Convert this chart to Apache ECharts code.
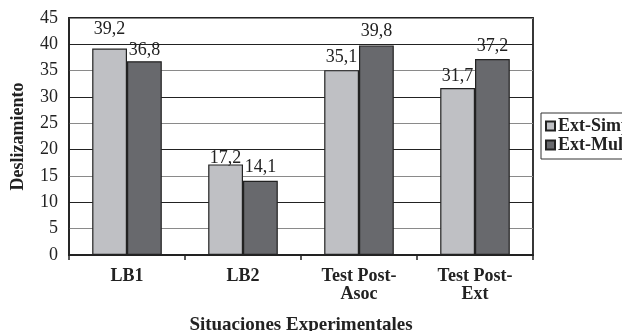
<!DOCTYPE html>
<html><head><meta charset="utf-8">
<script src="https://cdn.jsdelivr.net/npm/echarts@6/dist/echarts.min.js"></script>
<style>html,body{margin:0;padding:0;background:#fff}#c{width:622px;height:331px}</style>
</head><body><div id="c"></div>
<script>
const categories = ['LB1', 'LB2', 'Test Post-\nAsoc', 'Test Post-\nExt'];
const extSimple = [39.2, 17.2, 35.1, 31.7];
const extMultiple = [36.8, 14.1, 39.8, 37.2];
const seriesNames = ['Ext-Simple', 'Ext-Multiple'];
const yTicks = [0, 5, 10, 15, 20, 25, 30, 35, 40, 45];

const font = '"Liberation Serif", "Times New Roman", serif';
const chart = echarts.init(document.getElementById('c'), null, {renderer: 'canvas'});
const fmt = p => String(p.value).replace('.', ',');
// label distances nudged to mimic the original label placement
const simpleLabelDist = [10, -3, 4, 3];
const multiLabelDist = [2, 4, 5, 4];
const labelBase = {show: true, position: 'top', formatter: fmt, fontFamily: font, fontSize: 18, color: '#222'};
chart.setOption({
  animation: false,
  backgroundColor: '#fff',
  grid: {left: 69, right: 89, top: 18, bottom: 76, containLabel: false, outerBoundsMode: 'none',
         show: true, borderColor: '#222', borderWidth: 1.8, backgroundColor: 'transparent'},
  legend: {
    orient: 'vertical', left: 541, top: 113, itemWidth: 9, itemHeight: 9, itemGap: 1,
    padding: [4, 6, 5, 4], borderColor: '#333', borderWidth: 1, backgroundColor: '#fff',
    textStyle: {fontFamily: font, fontWeight: 'bold', fontSize: 18, lineHeight: 18, color: '#222', padding: [0, 0, 0, -2]},
    data: seriesNames.map(n => ({name: n, icon: 'rect'}))
  },
  xAxis: {
    type: 'category', data: categories,
    name: 'Situaciones Experimentales', nameLocation: 'middle', nameGap: 61,
    nameTextStyle: {fontFamily: font, fontWeight: 'bold', fontSize: 19, color: '#222'},
    axisLine: {lineStyle: {color: '#222', width: 2}},
    axisTick: {show: true, length: 5, lineStyle: {color: '#222', width: 1.5}},
    axisLabel: {fontFamily: font, fontWeight: 'bold', fontSize: 18, color: '#222', margin: 12, lineHeight: 18}
  },
  yAxis: {
    type: 'value', min: 0, max: 45, interval: 5,
    name: 'Deslizamiento', nameLocation: 'middle', nameGap: 42,
    nameTextStyle: {fontFamily: font, fontWeight: 'bold', fontSize: 18, color: '#222'},
    axisLine: {show: true, lineStyle: {color: '#222', width: 1.5}},
    axisTick: {show: false},
    axisLabel: {fontFamily: font, fontSize: 18, color: '#222', margin: 11,
      formatter: v => yTicks.includes(v) ? String(v) : ''},
    splitLine: {show: true, lineStyle: {color: ['#222', '#8a8a8a'], width: 1.2}}
  },
  series: [
    {name: seriesNames[0], type: 'bar', barWidth: '30%', barGap: '0%',
     data: extSimple.map((v, i) => ({value: v, label: {distance: simpleLabelDist[i]}})),
     itemStyle: {color: '#bfc0c4', borderColor: '#222', borderWidth: 1.2},
     label: labelBase},
    {name: seriesNames[1], type: 'bar', barWidth: '30%', barGap: '0%',
     data: extMultiple.map((v, i) => ({value: v, label: {distance: multiLabelDist[i]}})),
     itemStyle: {color: '#68696d', borderColor: '#222', borderWidth: 1.2},
     label: labelBase}
  ]
});
</script></body></html>
